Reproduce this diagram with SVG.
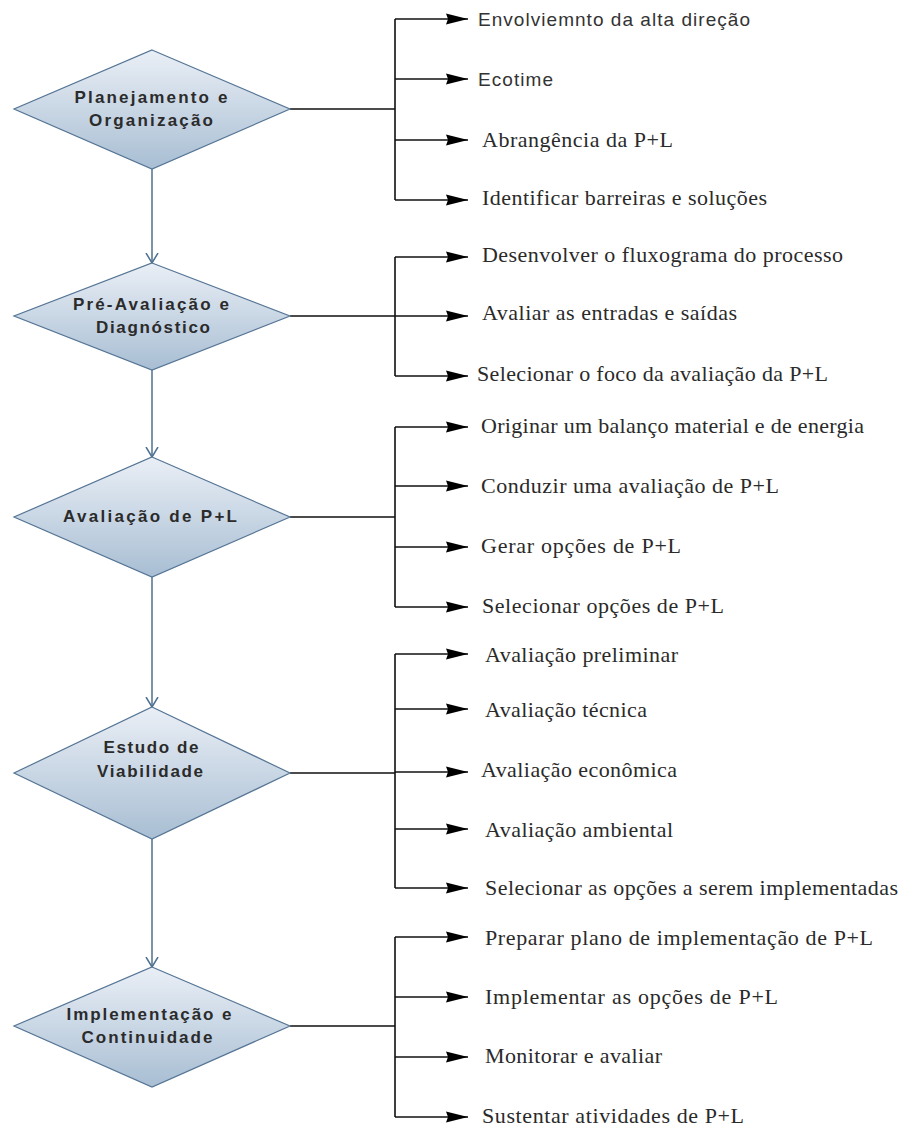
<svg xmlns="http://www.w3.org/2000/svg" width="912" height="1126" viewBox="0 0 912 1126">
<style>
.dia{fill:url(#g);stroke:#557595;stroke-width:1.2}
.dl{font-family:"Liberation Sans",Arial,sans-serif;font-weight:bold;font-size:17px;fill:#2b2b2b;text-anchor:middle}
.ss{font-family:"Liberation Sans",Arial,sans-serif;font-size:19px;fill:#333}
.sf{font-family:"Liberation Serif","Times New Roman",serif;font-size:22px;fill:#2a2a2a}
.br{fill:none;stroke:#111;stroke-width:1.6}
.ar{fill:none;stroke:#111;stroke-width:1.6;marker-end:url(#ah)}
.vc{fill:none;stroke:#4f7090;stroke-width:1.5;marker-end:url(#av)}
</style>
<defs>
<linearGradient id="g" x1="0" y1="0" x2="0" y2="1">
<stop offset="0" stop-color="#eaeff6"/>
<stop offset="1" stop-color="#a8bed3"/>
</linearGradient>
<marker id="ah" markerUnits="userSpaceOnUse" markerWidth="24" markerHeight="14" refX="22" refY="7" orient="auto">
<path d="M0,1.5 L22,7 L0,12.5 L2,7 Z" fill="#000"/>
</marker>
<marker id="av" markerUnits="userSpaceOnUse" markerWidth="14" markerHeight="14" refX="10" refY="7" orient="auto">
<path d="M0,1 L10,7 L0,13" fill="none" stroke="#4f7090" stroke-width="1.5"/>
</marker>
</defs>
<rect width="912" height="1126" fill="#fff"/>

<g id="connectors">
<path class="vc" d="M152,169 V263"/>
<path class="vc" d="M152,370 V457"/>
<path class="vc" d="M152,577 V707"/>
<path class="vc" d="M152,839 V967"/>

<path class="br" d="M290,109 H395 M395,19 V200"/>
<path class="ar" d="M395,19 H468"/>
<path class="ar" d="M395,79 H468"/>
<path class="ar" d="M395,140 H468"/>
<path class="ar" d="M395,200 H468"/>

<path class="br" d="M290,316 H395 M395,257 V376"/>
<path class="ar" d="M395,257 H468"/>
<path class="ar" d="M395,316 H468"/>
<path class="ar" d="M395,376 H468"/>

<path class="br" d="M290,517 H395 M395,427 V607"/>
<path class="ar" d="M395,427 H468"/>
<path class="ar" d="M395,486 H468"/>
<path class="ar" d="M395,547 H468"/>
<path class="ar" d="M395,607 H468"/>

<path class="br" d="M290,773 H395 M395,654 V888"/>
<path class="ar" d="M395,654 H468"/>
<path class="ar" d="M395,709 H468"/>
<path class="ar" d="M395,772 H468"/>
<path class="ar" d="M395,829 H468"/>
<path class="ar" d="M395,888 H468"/>

<path class="br" d="M290,1026 H395 M395,937 V1117"/>
<path class="ar" d="M395,937 H468"/>
<path class="ar" d="M395,997 H468"/>
<path class="ar" d="M395,1057 H468"/>
<path class="ar" d="M395,1117 H468"/>
</g>

<g id="n1">
<polygon class="dia" points="152,50 290,109 152,169 14,109"/>
<text class="dl" x="151" y="103" textLength="153" lengthAdjust="spacing">Planejamento e</text>
<text class="dl" x="151" y="126" textLength="124" lengthAdjust="spacing">Organização</text>
</g>
<g id="n2">
<polygon class="dia" points="152,263 290,316 152,370 14,316"/>
<text class="dl" x="151" y="310" textLength="156" lengthAdjust="spacing">Pré-Avaliação e</text>
<text class="dl" x="153" y="333" textLength="114" lengthAdjust="spacing">Diagnóstico</text>
</g>
<g id="n3">
<polygon class="dia" points="152,457 290,517 152,577 14,517"/>
<text class="dl" x="150" y="522" textLength="174" lengthAdjust="spacing">Avaliação de P+L</text>
</g>
<g id="n4">
<polygon class="dia" points="152,707 290,773 152,839 14,773"/>
<text class="dl" x="151" y="753" textLength="95" lengthAdjust="spacing">Estudo de</text>
<text class="dl" x="150" y="777" textLength="106" lengthAdjust="spacing">Viabilidade</text>
</g>
<g id="n5">
<polygon class="dia" points="152,967 290,1026 152,1087 14,1026"/>
<text class="dl" x="149" y="1020" textLength="165" lengthAdjust="spacing">Implementação e</text>
<text class="dl" x="147" y="1043" textLength="131" lengthAdjust="spacing">Continuidade</text>
</g>

<g id="t1">
<text class="ss" x="478" y="26" textLength="272" lengthAdjust="spacing">Envolviemnto da alta direção</text>
<text class="ss" x="478" y="86" textLength="75" lengthAdjust="spacing">Ecotime</text>
<text class="sf" x="482" y="147" textLength="191" lengthAdjust="spacing">Abrangência da P+L</text>
<text class="sf" x="482" y="205" textLength="285" lengthAdjust="spacing">Identificar barreiras e soluções</text>
</g>
<g id="t2">
<text class="sf" x="482" y="262" textLength="361" lengthAdjust="spacing">Desenvolver o fluxograma do processo</text>
<text class="sf" x="482" y="320" textLength="255" lengthAdjust="spacing">Avaliar as entradas e saídas</text>
<text class="sf" x="477" y="381" textLength="351" lengthAdjust="spacing">Selecionar o foco da avaliação da P+L</text>
</g>
<g id="t3">
<text class="sf" x="481" y="433" textLength="383" lengthAdjust="spacing">Originar um balanço material e de energia</text>
<text class="sf" x="481" y="493" textLength="298" lengthAdjust="spacing">Conduzir uma avaliação de P+L</text>
<text class="sf" x="481" y="553" textLength="200" lengthAdjust="spacing">Gerar opções de P+L</text>
<text class="sf" x="482" y="613" textLength="242" lengthAdjust="spacing">Selecionar opções de P+L</text>
</g>
<g id="t4">
<text class="sf" x="485" y="662" textLength="193" lengthAdjust="spacing">Avaliação preliminar</text>
<text class="sf" x="485" y="717" textLength="162" lengthAdjust="spacing">Avaliação técnica</text>
<text class="sf" x="481" y="777" textLength="196" lengthAdjust="spacing">Avaliação econômica</text>
<text class="sf" x="485" y="837" textLength="188" lengthAdjust="spacing">Avaliação ambiental</text>
<text class="sf" x="485" y="895" textLength="413" lengthAdjust="spacing">Selecionar as opções a serem implementadas</text>
</g>
<g id="t5">
<text class="sf" x="485" y="945" textLength="388" lengthAdjust="spacing">Preparar plano de implementação de P+L</text>
<text class="sf" x="485" y="1004" textLength="293" lengthAdjust="spacing">Implementar as opções de P+L</text>
<text class="sf" x="485" y="1063" textLength="177" lengthAdjust="spacing">Monitorar e avaliar</text>
<text class="sf" x="482" y="1123" textLength="262" lengthAdjust="spacing">Sustentar atividades de P+L</text>
</g>
</svg>
